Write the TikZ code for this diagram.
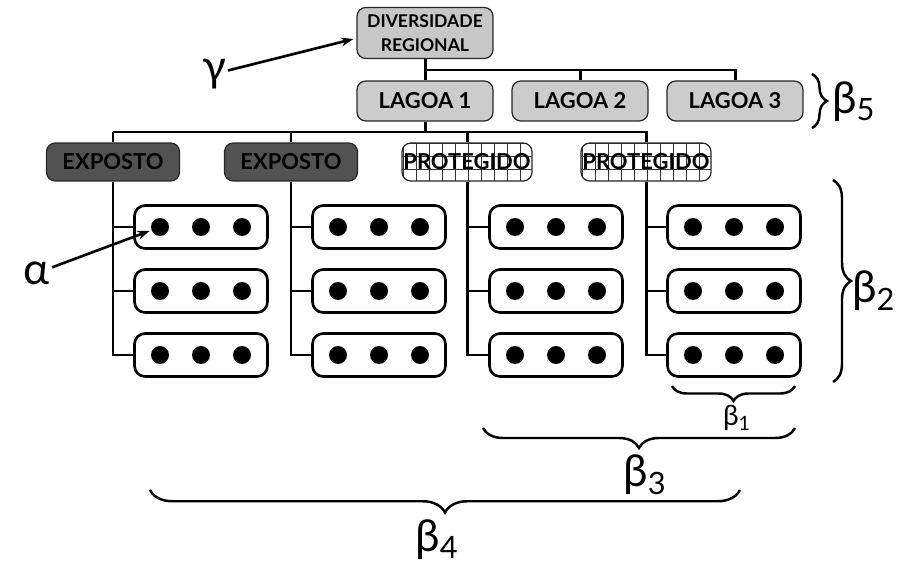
\documentclass[tikz,border=0pt]{standalone}
\usepackage{fontspec}
\setmainfont{Lato}
\usetikzlibrary{calc,decorations.pathreplacing,arrows.meta}

\tikzset{
  box/.style={draw=black!85, line width=0.7pt, rounded corners=5pt,
    font=\bfseries\fontsize{12.5}{13}\selectfont, inner sep=0pt},
  regbox/.style={box, fill=black!22, minimum width=2.72cm, minimum height=1.02cm,
    align=center, font=\bfseries\fontsize{10}{13.6}\selectfont},
  lagbox/.style={box, fill=black!20, minimum width=2.72cm, minimum height=0.8cm},
  expbox/.style={box, fill=black!68, minimum width=2.66cm, minimum height=0.76cm},
  probox/.style={box, fill=white, minimum width=2.6cm, minimum height=0.76cm,
    path picture={\draw[black!80, line width=0.6pt]
      (path picture bounding box.south west) grid[step=0.26cm]
      (path picture bounding box.north east);}},
  dotbox/.style={draw, line width=1.5pt, rounded corners=6pt,
    minimum width=2.66cm, minimum height=0.86cm, inner sep=0pt},
  conn/.style={line width=1.7pt},
  brc/.style={decorate, line width=1.4pt},
  greek/.style={font=\fontsize{25}{26}\selectfont, inner sep=1pt},
  arr/.style={line width=1.5pt, -{Stealth[length=7pt,width=5pt]}}
}

\begin{document}
\begin{tikzpicture}[x=0.02cm, y=-0.02cm]
  \useasboundingbox (0,0) rectangle (902,567);

  % levels of the hierarchy
  \node[regbox] (div) at (425,33) {DIVERSIDADE\\REGIONAL};
  \node[lagbox] (lag1) at (425,101) {LAGOA 1};
  \node[lagbox] (lag2) at (580,101) {LAGOA 2};
  \node[lagbox] (lag3) at (735,101) {LAGOA 3};
  \node[expbox] (ex1) at (113,162) {EXPOSTO};
  \node[expbox] (ex2) at (291,162) {EXPOSTO};
  \node[probox] (pr1) at (467,162) {PROTEGIDO};
  \node[probox] (pr2) at (646,162) {PROTEGIDO};

  % replicate boxes
  \foreach \c/\x in {1/201,2/379,3/556,4/734}
    \foreach \r/\y in {1/227,2/291,3/355}{
      \node[dotbox] (b\c\r) at (\x,\y) {};
      \foreach \d in {-1,0,1}
        \fill ($(b\c\r)+(\d*41,0)$) circle (9);
    }

  % connectors
  \coordinate (bar1) at (0,70);
  \coordinate (bar2) at (0,132);
  \draw[conn] (div.south) -- (lag1.north);
  \draw[conn] (lag1.north |- bar1) -| (lag3.north);
  \draw[conn] (lag2.north |- bar1) -- (lag2.north);
  \draw[conn] (lag1.south) -- (lag1.south |- bar2);
  \draw[conn] (ex1.north |- bar2) -| (pr2.north);
  \foreach \n in {ex1,ex2,pr1}
    \draw[conn] (\n.north |- bar2) -- (\n.north);
  \foreach \c/\n in {1/ex1,2/ex2,3/pr1,4/pr2}{
    \draw[conn] (\n.south) |- (b\c3.west);
    \draw[conn] (\n.south |- b\c1.west) -- (b\c1.west);
    \draw[conn] (\n.south |- b\c2.west) -- (b\c2.west);
  }

  % diversity components
  \node[greek] (gamma) at (214,74) {γ};
  \draw[arr] (gamma) -- ($(div.west)+(-3,6)$);
  \node[greek] (alpha) at (37,273) {α};
  \draw[arr, shorten >=0.22cm] (alpha) -- ($(b11)+(-41,0)$);

  \draw[brc, decoration={brace, amplitude=0.3cm}] (812,74) -- (812,128);
  \node[greek, anchor=west] (beta5) at (830,102) {β\textsubscript{5}};
  \draw[brc, decoration={brace, amplitude=0.36cm}] (833,180) -- (833,382);
  \node[greek, anchor=west] (beta2) at (850,291) {β\textsubscript{2}};
  \draw[brc, decoration={brace, amplitude=0.3cm}] (795,386) -- (672,386);
  \node[font=\fontsize{16}{17}\selectfont] (beta1) at (737,418) {β\textsubscript{1}};
  \draw[brc, decoration={brace, amplitude=0.4cm}] (795,428) -- (483,428);
  \node[greek] (beta3) at (645,475) {β\textsubscript{3}};
  \draw[brc, decoration={brace, amplitude=0.45cm}] (740,490) -- (150,490);
  \node[greek] (beta4) at (437,540) {β\textsubscript{4}};
\end{tikzpicture}
\end{document}
